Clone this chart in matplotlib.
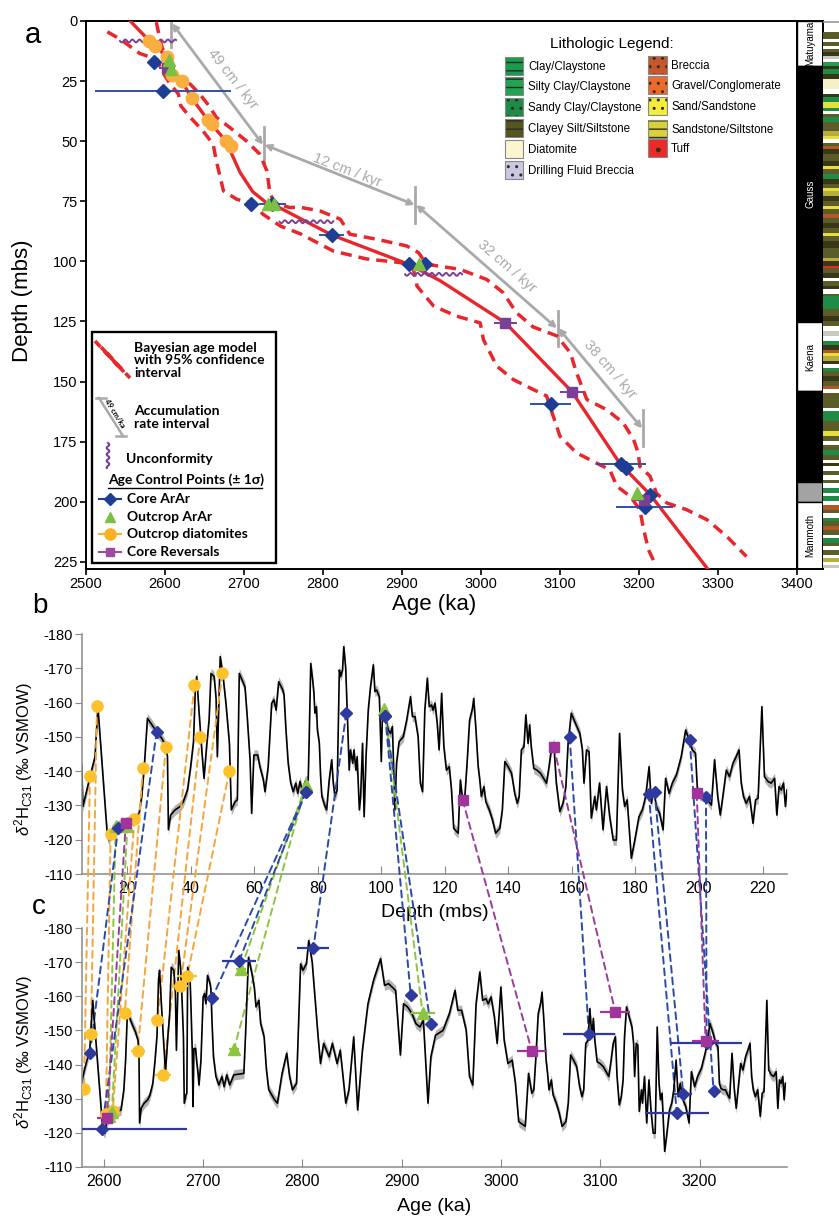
import numpy as np
import matplotlib
matplotlib.use("Agg")
import matplotlib.pyplot as plt
from matplotlib.patches import Rectangle, ConnectionPatch

plt.rcParams['font.family'] = ['Liberation Sans', 'DejaVu Sans']
plt.rcParams['axes.unicode_minus'] = False
plt.rcParams['mathtext.fontset'] = 'custom'
plt.rcParams['mathtext.rm'] = 'Liberation Sans'
plt.rcParams['mathtext.it'] = 'Liberation Sans:italic'
plt.rcParams['mathtext.bf'] = 'Liberation Sans:bold'

# ------------------------------------------------------------------ data
# Bayesian age model (age ka, depth mbs)
age_med = [2556, 2580, 2602, 2609, 2621, 2634, 2654, 2677, 2695, 2711, 2729, 2741,
           2811, 2909, 2948, 3031, 3115, 3176, 3214, 3287]
depth_med = [0, 8.2, 14.7, 20.7, 24.9, 32.1, 41.1, 49.9, 63, 71, 75.8, 77,
             89, 101.3, 108, 125.6, 154.2, 184.2, 197, 228]
age_lo = [2527, 2543, 2568, 2590, 2596, 2606, 2617, 2620, 2632, 2648, 2661, 2665, 2674,
          2691, 2712, 2724, 2746, 2771, 2813, 2855, 2898, 2914, 2919, 2940, 2969, 2999,
          3003, 3020, 3041, 3066, 3083, 3090, 3100, 3121, 3146, 3163, 3172, 3189, 3201,
          3206, 3212, 3222]
depth_lo = [4.5, 7.5, 13.5, 16, 20.7, 26, 30.4, 35.3, 40.1, 45.7, 51.3, 58.2, 70.7,
            74.2, 76, 80.4, 85.3, 88.5, 95.7, 99, 100.5, 102.6, 110.3, 118.6, 122.8, 125.6,
            132.5, 143.6, 149.2, 153.3, 156, 163, 172.8, 179.7, 183.9, 186.7, 193.6, 197.8,
            203.3, 211.7, 220, 226.9]
age_hi = [2589, 2594, 2600, 2615, 2632, 2644, 2655, 2665, 2682, 2703, 2720, 2729, 2733,
          2740, 2758, 2771, 2796, 2822, 2834, 2868, 2906, 2921, 2931, 2973, 3007, 3028,
          3045, 3066, 3096, 3113, 3121, 3134, 3159, 3180, 3193, 3199, 3201, 3214, 3222,
          3235, 3260, 3286, 3311, 3336]
depth_hi = [0.5, 8.2, 15, 22.8, 26.3, 30.4, 35, 40.1, 44.3, 49.9, 55.4, 62.4, 72,
            76, 77.6, 77.5, 79, 82.5, 88.7, 90.8, 93.6, 96.4, 101.2, 103.3, 107.5, 113,
            121.4, 127.3, 131, 138, 146.4, 157.5, 161.7, 167.2, 174, 179.7, 185.3, 189.4,
            196.4, 200.5, 203.3, 207.5, 214.4, 222.8]

# unconformities
unc_depth = [8.3, 83.5, 105.4]
unc_age0 = [2543, 2745, 2904]
unc_age1 = [2614, 2813, 2976]

# accumulation-rate intervals
acc_rates = ["49 cm / kyr", "12 cm / kyr", "32 cm / kyr", "38 cm / kyr"]
acc_age = [2608, 2725, 2917, 3097, 3205]
acc_depth = [1, 51.5, 76.5, 127.8, 169.5]
acc_tick_top = [0, 44, 69, 120.5, 162]
acc_tick_bot = [11, 59, 84, 135.3, 177]

# age control points: depth, age, 1-sigma age error, d2H at depth (b), d2H at age (c)
dia_depth = [8.3, 10.5, 14.8, 22.3, 25.0, 32.2, 41.2, 43.0, 50.0, 52.2]
dia_age = [2580, 2587, 2602, 2609, 2621, 2634, 2654, 2660, 2677, 2684]
dia_err = [5, 6, 5, 5, 6, 7, 7, 8, 8, 10]
dia_b = [-138.6, -159, -121.7, -126, -141, -147, -165, -150, -168.5, -140]
dia_c = [-132.8, -148.9, -125.5, -126.5, -155, -144, -153, -137, -163, -166]

oar_depth = [16.4, 20.1, 76.3, 76.3, 101.0, 196.4]
oar_age = [2605, 2608, 2731, 2738, 2921, 3197]
oar_err = [4, 4, 5, 5, 12, 5]
oar_b = [-124, -124, -136, -136, -158, np.nan]
oar_c = [-125, -126, -144.5, -168, -155, np.nan]

car_depth = [17.2, 29.3, 76.3, 76.3, 89.0, 101.25, 101.25, 159.3, 184.2, 186.0, 197.1, 202.2]
car_age = [2586, 2598, 2709, 2736, 2811, 2909, 2929, 3088.5, 3177, 3183.5, 3214, 3207]
car_err = [2, 86, 3, 17, 16, 3, 3, 26, 32, 9, 3, 36]
car_b = [-123.5, -151.5, -134, -134, -157, -156, -156, -150, -133.3, -134, -149, -132.5]
car_c = [-143.3, -121.2, -159.5, -170.2, -174.1, -160.5, -151.9, -149, -125.9, -131.4,
         -132.3, -146.4]

rev_depth = [19.6, 125.6, 154.3, 199.3]
rev_age = [2603, 3031, 3115, 3206]
rev_err = [10, 15, 15, 14]
rev_b = [-125, -131.6, -147.1, -133.5]
rev_c = [-124.4, -144, -155.5, -146.9]

# d2H C31 record versus depth
rec_depth = [
    5.7, 6.1, 8.4, 9.9, 10.8, 13.8, 14.4, 15.2, 16.8, 18.9,
    21.5, 23.6, 24.6, 25.4, 26.4, 27.8, 29.3, 30.9, 32.3, 32.7,
    33.0, 33.7, 35.1, 36.7, 37.7, 39.0, 40.0, 40.9, 41.5, 41.9,
    42.6, 43.5, 44.2, 45.1, 45.8, 46.4, 47.4, 48.0, 48.4, 49.3,
    50.1, 51.1, 52.2, 52.8, 54.0, 54.7, 55.3, 57.1, 57.8, 58.7,
    59.2, 59.9, 61.1, 61.8, 62.9, 63.4, 64.4, 65.5, 66.2, 66.9,
    67.7, 69.0, 69.4, 70.0, 70.7, 71.5, 72.3, 73.1, 73.7, 74.4,
    75.2, 76.0, 77.0, 77.3, 77.8, 78.4, 78.8, 79.1, 79.6, 79.9,
    80.5, 80.9, 81.3, 82.3, 82.8, 83.6, 84.4, 84.9, 85.4, 86.1,
    86.8, 87.2, 87.8, 88.2, 88.8, 89.3, 89.6, 89.9, 90.3, 91.0,
    91.4, 92.0, 92.4, 93.1, 93.5, 94.1, 94.6, 95.2, 95.9, 96.6,
    97.5, 98.0, 98.5, 99.4, 100.0, 100.4, 100.9, 101.5, 102.2, 102.9,
    103.5, 104.3, 104.8, 105.6, 106.9, 108.0, 109.2, 109.8, 110.6, 111.6,
    112.3, 113.0, 113.7, 114.5, 115.1, 115.8, 116.3, 116.9, 117.6, 118.2,
    119.0, 119.7, 120.5, 121.4, 122.1, 122.8, 124.2, 124.9, 125.6, 126.3,
    127.0, 127.8, 128.7, 129.1, 129.8, 130.5, 131.0, 131.5, 132.3, 132.9,
    134.0, 135.0, 136.0, 137.3, 138.1, 138.9, 139.9, 141.0, 142.0, 142.8,
    143.4, 144.1, 144.9, 145.5, 146.2, 146.7, 147.2, 148.0, 149.0, 150.1,
    151.1, 152.0, 152.8, 153.5, 154.3, 155.1, 156.2, 157.2, 158.1, 158.8,
    159.8, 160.9, 162.5, 163.3, 163.8, 164.6, 165.4, 166.1, 167.2, 167.7,
    168.7, 169.8, 170.9, 171.9, 173.0, 174.0, 175.0, 175.9, 176.6, 177.4,
    178.7, 179.8, 181.1, 182.2, 183.2, 184.3, 185.0, 185.7, 186.6, 187.6,
    188.7, 189.5, 190.6, 191.6, 192.9, 194.4, 195.8, 196.9, 197.9, 198.9,
    199.5, 200.2, 201.2, 202.1, 203.1, 203.9, 204.9, 205.9, 206.7, 207.5,
    208.6, 209.6, 210.7, 211.7, 212.6, 213.3, 214.0, 214.9, 215.9, 217.0,
    217.8, 218.6, 219.8, 220.6, 221.7, 222.7, 223.8, 224.5, 225.2, 225.9,
    226.6, 227.2, 227.7]
rec_d2h = [
    -141.8, -129.7, -138.7, -144.2, -158.8, -120.9, -119.9, -122.9, -124.0, -124.8,
    -125.8, -126.7, -132.6, -141.3, -155.4, -153.5, -151.5, -149.6, -147.1, -144.2,
    -122.9, -127.2, -128.7, -129.7, -131.1, -134.5, -141.3, -148.6, -164.8, -167.6,
    -157.8, -146.2, -137.9, -148.1, -154.9, -168.5, -167.6, -161.2, -144.2, -173.4,
    -168.5, -159.8, -148.1, -128.7, -131.1, -131.6, -168.5, -164.6, -155.9, -143.3,
    -127.7, -144.7, -144.7, -141.3, -137.4, -134.0, -141.3, -159.8, -160.8, -157.8,
    -166.1, -163.7, -162.2, -152.0, -142.3, -136.5, -134.0, -136.5, -133.5, -137.0,
    -134.0, -137.0, -137.4, -149.1, -171.4, -166.6, -162.7, -156.9, -158.8, -152.0,
    -148.1, -138.4, -132.6, -129.7, -128.7, -137.4, -143.3, -136.5, -132.6, -134.5,
    -169.5, -167.6, -169.5, -176.3, -170.0, -156.9, -148.1, -140.3, -146.2, -142.3,
    -146.2, -140.3, -144.2, -128.7, -132.6, -148.1, -126.7, -144.2, -157.8, -164.6,
    -171.0, -163.2, -163.7, -161.7, -142.8, -157.8, -156.9, -155.0, -152.0, -151.0,
    -153.0, -128.7, -142.3, -148.6, -150.0, -154.9, -161.7, -155.9, -155.9, -150.0,
    -136.5, -134.0, -157.8, -167.1, -158.8, -159.3, -157.8, -159.8, -154.0, -146.2,
    -162.7, -147.1, -140.3, -141.3, -134.5, -123.3, -121.9, -137.4, -131.6, -132.6,
    -142.3, -154.9, -158.3, -161.2, -152.0, -141.3, -137.4, -132.6, -135.5, -131.1,
    -128.7, -125.8, -121.9, -123.3, -128.7, -142.8, -141.3, -139.4, -133.5, -130.6,
    -132.6, -146.2, -147.1, -156.4, -148.1, -153.5, -147.1, -140.8, -140.3, -139.4,
    -137.9, -136.5, -141.3, -146.2, -148.1, -136.5, -128.2, -130.6, -135.5, -148.1,
    -156.9, -154.4, -151.0, -146.2, -136.5, -146.2, -145.7, -126.3, -132.6, -128.7,
    -136.5, -122.9, -135.5, -126.7, -119.9, -119.9, -151.0, -134.5, -129.7, -131.6,
    -114.6, -119.9, -126.7, -128.7, -132.6, -141.3, -130.6, -134.5, -129.7, -127.7,
    -122.9, -137.9, -133.5, -136.5, -138.9, -144.2, -152.0, -149.1, -146.2, -145.2,
    -134.5, -133.0, -132.6, -132.6, -131.1, -130.1, -143.3, -132.6, -127.2, -132.6,
    -140.3, -138.4, -142.3, -144.2, -146.2, -136.5, -132.6, -130.6, -132.6, -124.8,
    -131.6, -132.1, -158.8, -138.4, -137.0, -136.5, -137.9, -127.2, -135.5, -134.5,
    -136.5, -129.7, -134.5]
rec_sigma = 1.5  # half-width of grey uncertainty band (per mil)

# magnetostratigraphy
chron_bounds = [0, 18.75, 125.4, 154, 192, 200, 228]
chron_kind = ['R', 'N', 'R', 'N', 'U', 'R']
chron_labels = ['Matuyama', 'Gauss', 'Kaena', '', '', 'Mammoth']

# lithology column
lith_bounds = [
    4.7, 7.5, 8.9, 10.3, 11.7, 13.1, 14.4, 15.8, 17.2, 18.6, 20.0, 22.1, 24.2, 27.0, 28.3,
    30.4, 31.8, 33.9, 36.0, 37.4, 38.8, 40.1, 42.2, 44.3, 45.7, 47.8, 49.2, 50.6, 52.0,
    53.3, 55.4, 58.2, 60.3, 61.7, 63.8, 65.8, 67.9, 69.3, 70.7, 72.8, 74.9, 77.0, 78.3,
    80.4, 81.8, 83.9, 86.0, 88.1, 89.4, 91.5, 94.3, 96.4, 98.5, 99.9, 101.9, 102.9,
    104.7, 106.8, 108.2, 110.3, 111.7, 113.75,
    114.4, 117.2, 120.0, 122.8, 124.9, 127.0, 129.0, 131.1, 133.2, 134.6, 136.7, 138.1,
    139.4, 141.5, 142.9, 144.3, 145.7, 147.8, 149.9, 151.9, 153.3, 154.7, 156.8, 158.9,
    161.0, 162.4, 164.4, 166.5, 168.6, 170.7, 172.8, 174.9, 176.3, 178.3, 180.4, 182.5,
    183.9, 185.3, 187.4, 188.8, 190.8, 192.2, 194.3, 196.4, 197.8, 199.9, 201.3, 203.3,
    204.7, 206.8, 208.2, 210.3, 211.7, 213.75, 215.1, 217.2, 218.6, 220.0, 222.1, 223.5,
    224.9, 226.25, 227.6]
lith_types = ("OWOWOKGWSKCKDDWKCYCWOCOOLYWOBKOKYOCKOYLKOYOBOKOYOKOOLKROKWOKW"
              "OCCOKOWGWCKBYLKWCOKOBWOOOWCCOOYOWOCOWKWOWOWCWCWBOWCOBOWCOWOWLWG")

lith_legend_1 = ["Clay/Claystone", "Silty Clay/Claystone", "Sandy Clay/Claystone",
                 "Clayey Silt/Siltstone", "Diatomite", "Drilling Fluid Breccia"]
lith_legend_2 = ["Breccia", "Gravel/Conglomerate", "Sand/Sandstone",
                 "Sandstone/Siltstone", "Tuff"]

# ------------------------------------------------------------------ styles
RED = '#e8262b'
ACC = '#a9a9a9'
A_BLUE, A_BLUE_E = '#1d3e93', '#2f52a8'
A_GREEN, A_ORANGE, A_PURPLE = '#7ac143', '#f9ae3f', '#7b3f98'
B_BLUE, B_GREEN, B_ORANGE, B_PURPLE = '#2e3a9e', '#8cc63f', '#fdc22b', '#a0349c'
L_BLUE, L_GREEN, L_ORANGE, L_PURPLE = '#2b4aa8', '#8cc63f', '#f6a53a', '#9b3b9b'
LITH_COL = {'C': '#1e8c46', 'S': '#2a9a52', 'O': '#5c5c2a', 'K': '#383818',
            'W': '#ffffff', 'G': '#c9c9c0', 'D': '#f5f0c8', 'Y': '#e6de3c',
            'L': '#b5ae3e', 'B': '#b0582a', 'R': '#e8282a'}
CHRON_COL = {'R': 'white', 'N': 'black', 'U': '#a3a3a3'}

W, H = 839, 1218
fig = plt.figure(figsize=(W / 100, H / 100), dpi=100)


def fax(x0, y0, x1, y1, **kw):
    return fig.add_axes([x0 / W, 1 - y1 / H, (x1 - x0) / W, (y1 - y0) / H], **kw)


# ------------------------------------------------------------------ panel a
axa = fax(86, 21, 797, 569)
axa.set_xlim(2500, 3400)
axa.set_ylim(228, 0)
axa.set_xticks(np.arange(2500, 3401, 100))
axa.set_yticks(np.arange(0, 226, 25))
axa.tick_params(direction='out', length=4, width=1.2, labelsize=10.5, pad=2)
for s in axa.spines.values():
    s.set_linewidth(1.4)
axa.set_xlabel('Age (ka)', fontsize=16)
axa.set_ylabel('Depth (mbs)', fontsize=16)
axa.xaxis.set_label_coords(0.49, -0.045)
axa.yaxis.set_label_coords(-0.075, 0.49)

axa.plot(age_med, depth_med, color=RED, lw=2.4, zorder=3)
axa.plot(age_lo, depth_lo, color=RED, lw=2.5, dashes=(3.2, 2.0), zorder=3)
axa.plot(age_hi, depth_hi, color=RED, lw=2.5, dashes=(3.2, 2.0), zorder=3)

for d, a0, a1 in zip(unc_depth, unc_age0, unc_age1):
    aa = np.linspace(a0, a1, 300)
    axa.plot(aa, d + 0.6 * np.sin((aa - a0) / 9.0 * 2 * np.pi), color=A_PURPLE, lw=1.4,
             zorder=4)

for i in range(len(acc_age)):
    axa.plot([acc_age[i], acc_age[i]], [acc_tick_top[i], acc_tick_bot[i]], color=ACC,
             lw=2.0, zorder=2)
for i in range(len(acc_rates)):
    axa.annotate('', xy=(acc_age[i + 1] - 1, acc_depth[i + 1]),
                 xytext=(acc_age[i] + 1, acc_depth[i]),
                 arrowprops=dict(arrowstyle='<->,head_length=0.35,head_width=0.18',
                                 color=ACC, lw=2.0, shrinkA=0, shrinkB=0), zorder=2)
acc_label_pos = [(2686, 24), (2830, 62), (3032, 102), (3163, 145)]
acc_label_rot = [-52, -21, -41, -49]
for txt, (x, y), r in zip(acc_rates, acc_label_pos, acc_label_rot):
    axa.text(x, y, txt, color=ACC, fontsize=10.5, rotation=r, ha='center', va='center',
             rotation_mode='anchor')


def pts(ax, x, y, err, color, ecolor, marker, ms, z):
    if err is not None:
        ax.errorbar(x, y, xerr=err, fmt='none', ecolor=ecolor, elinewidth=1.4, capsize=0,
                    zorder=z - 0.5)
    ax.plot(x, y, ls='none', marker=marker, color=color, mec=color, ms=ms, zorder=z)


pts(axa, dia_age, dia_depth, None, A_ORANGE, A_ORANGE, 'o', 9, 5)
pts(axa, car_age, car_depth, car_err, A_BLUE, A_BLUE_E, 'D', 7, 6)
pts(axa, rev_age, rev_depth, rev_err, A_PURPLE, A_PURPLE, 's', 7, 6)
pts(axa, oar_age, oar_depth, None, A_GREEN, A_GREEN, '^', 8.5, 7)

# magnetostratigraphy column
axp = fax(797, 21, 823, 569)
axp.set_xlim(0, 1)
axp.set_ylim(228, 0)
axp.set_xticks([])
axp.set_yticks([])
for s in axp.spines.values():
    s.set_linewidth(1.4)
tops = np.array(chron_bounds[:-1])
bots = np.array(chron_bounds[1:])
axp.barh(tops, 1, height=bots - tops, left=0, align='edge',
         color=[CHRON_COL[k] for k in chron_kind], edgecolor='black', lw=1.0)
for t, b, k, lab in zip(tops, bots, chron_kind, chron_labels):
    if lab:
        axp.text(0.5, (t + b) / 2, lab, rotation=90, ha='center', va='center', fontsize=7,
                 color='white' if k == 'N' else 'black')

# lithology column
axl = fax(823, 21, 839, 569)
axl.set_xlim(0, 1)
axl.set_ylim(228, 0)
axl.axis('off')
lt = np.array(lith_bounds[:-1])
lb = np.array(lith_bounds[1:])
axl.barh(lt, 1, height=lb - lt, left=0, align='edge',
         color=[LITH_COL[k] for k in lith_types], lw=0)
axl.plot([0, 1], [0.3, 0.3], color='#999999', lw=1.2)

# ------------------------------------------------------------------ panel b
axb = fax(82, 634, 787, 874)
axb.set_xlim(5.8, 227.7)
axb.set_ylim(-110, -180)
rd = np.array(rec_depth)
rv = np.array(rec_d2h)
axb.fill_between(rd, rv - rec_sigma, rv + rec_sigma, color='#b3b3b3', lw=0, zorder=1)
axb.plot(rd, rv, color='black', lw=1.2, zorder=2)

# ------------------------------------------------------------------ panel c
axc = fax(82, 928, 787, 1167)
axc.set_xlim(2578, 3288)
axc.set_ylim(-110, -180)
rec_age = np.interp(rd, depth_med, age_med)
axc.fill_between(rec_age, rv - rec_sigma, rv + rec_sigma, color='#b3b3b3', lw=0, zorder=1)
axc.plot(rec_age, rv, color='black', lw=1.2, zorder=2)
axc.patch.set_visible(False)

for ax in (axb, axc):
    for s in ('top', 'right'):
        ax.spines[s].set_visible(False)
    for s in ('left', 'bottom'):
        ax.spines[s].set_color('#8a8a8a')
        ax.spines[s].set_linewidth(1.1)
    ax.set_yticks(np.arange(-180, -109, 10))
    ax.tick_params(axis='y', direction='out', length=5, color='#8a8a8a', labelsize=10.5,
                   pad=2)
    ax.tick_params(axis='x', direction='in', length=6, color='#8a8a8a', labelsize=11.5,
                   pad=5)
    ax.set_ylabel(r'$\delta^2$H$_{\mathrm{C31}}$ (‰ VSMOW)', fontsize=12)
    ax.yaxis.set_label_coords(-0.066, 0.48)
axb.set_xticks(np.arange(20, 221, 20))
axc.set_xticks(np.arange(2600, 3201, 100))
axb.set_xlabel('Depth (mbs)', fontsize=14)
axb.xaxis.set_label_coords(0.50, -0.125)
axc.set_xlabel('Age (ka)', fontsize=14)
axc.xaxis.set_label_coords(0.50, -0.13)

groups = [
    (dia_depth, dia_b, dia_age, dia_c, dia_err, B_ORANGE, L_ORANGE, 'o', 8),
    (oar_depth, oar_b, oar_age, oar_c, oar_err, B_GREEN, L_GREEN, '^', 8),
    (car_depth, car_b, car_age, car_c, car_err, B_BLUE, L_BLUE, 'D', 6.5),
    (rev_depth, rev_b, rev_age, rev_c, rev_err, B_PURPLE, L_PURPLE, 's', 6.5),
]
for dep, vb, age, vc, err, col, lcol, mk, ms in groups:
    for d, b, a, c in zip(dep, vb, age, vc):
        if np.isnan(b) or np.isnan(c):
            continue
        con = ConnectionPatch(xyA=(d, b), coordsA=axb.transData, xyB=(a, c),
                              coordsB=axc.transData, color=lcol, lw=1.4,
                              linestyle=(0, (3.5, 2.5)), zorder=3, clip_on=False)
        axb.add_artist(con)
for dep, vb, age, vc, err, col, lcol, mk, ms in groups:
    ok = ~np.isnan(np.array(vb, dtype=float))
    axb.plot(np.array(dep)[ok], np.array(vb)[ok], ls='none', marker=mk, color=col, ms=ms,
             zorder=6)
    ok = ~np.isnan(np.array(vc, dtype=float))
    axc.errorbar(np.array(age)[ok], np.array(vc)[ok], xerr=np.array(err)[ok], fmt='none',
                 ecolor=col, elinewidth=1.6, capsize=0, zorder=5)
    axc.plot(np.array(age)[ok], np.array(vc)[ok], ls='none', marker=mk, color=col, ms=ms,
             zorder=6)

# ------------------------------------------------------------------ overlay (legends, letters)
ov = fig.add_axes([0, 0, 1, 1], zorder=10)
ov.set_xlim(0, W)
ov.set_ylim(H, 0)
ov.axis('off')

ov.text(25, 35, 'a', fontsize=21, ha='left', va='center')
ov.text(32, 606, 'b', fontsize=20, ha='left', va='center')
ov.text(32, 907, 'c', fontsize=20, ha='left', va='center')

# lithologic legend
ov.text(612, 44, 'Lithologic Legend:', fontsize=11, ha='center', va='center')
sw1 = ['#1a9a4a', '#22a352', '#1c8c46', '#55561e', '#fbf6cf', '#cac7e2']
sw2 = ['#c4572c', '#ec6a2c', '#f2ec3a', '#d8d23a', '#ec2a2a']
h1 = ['--', '--', '..', '--', None, '..']
h2 = ['..', '..', '..', '--', '.']
y1 = [66, 86, 107, 128, 149, 170]
y2 = [65, 85, 106, 129, 148]
for lab, c, hh, y in zip(lith_legend_1, sw1, h1, y1):
    ov.add_patch(Rectangle((505, y - 9), 18, 18, facecolor=c, edgecolor='#2a2a2a',
                           hatch=hh, lw=0))
    ov.add_patch(Rectangle((505, y - 9), 18, 18, fill=False, edgecolor='#888888', lw=0.8))
    ov.text(528, y + 1, lab, fontsize=8.3, va='center', ha='left')
for lab, c, hh, y in zip(lith_legend_2, sw2, h2, y2):
    ov.add_patch(Rectangle((648, y - 9), 19, 18, facecolor=c, edgecolor='#3a2a10',
                           hatch=hh, lw=0))
    ov.add_patch(Rectangle((648, y - 9), 19, 18, fill=False, edgecolor='#888888', lw=0.8))
    ov.text(671, y + 1, lab, fontsize=8.3, va='center', ha='left')

# age model legend box
LF = ['Lato', 'DejaVu Sans']
ov.add_patch(Rectangle((92, 332), 184, 231, facecolor='white', edgecolor='black', lw=1.7))
for off, ls in [(-6, (0, (2.2, 1.6))), (0, '-'), (6, (0, (2.2, 1.6)))]:
    ov.plot([101 + off, 124 + off], [347 + off, 372 + off], color=RED, lw=2.6,
            linestyle=ls, solid_capstyle='butt')
ov.text(134, 342, 'Bayesian age model\nwith 95% confidence\ninterval', fontsize=10,
        fontweight='bold', family=LF, va='top', ha='left', linespacing=1.05)
ov.plot([99, 123], [398, 436], color=ACC, lw=1.8)
ov.plot([96, 106], [398, 398], color=ACC, lw=1.8)
ov.plot([116, 126], [436, 436], color=ACC, lw=1.8)
ov.text(115, 413, '49 cm/ka', fontsize=5.5, fontweight='bold', family=LF, rotation=-58,
        ha='center', va='center')
ov.text(134, 405, 'Accumulation\nrate interval', fontsize=10, fontweight='bold',
        family=LF, va='top', ha='left', linespacing=1.05)
yy = np.linspace(443, 468, 100)
ov.plot(108 + 1.3 * np.sin((yy - 443) / 6.5 * 2 * np.pi), yy, color=A_PURPLE, lw=1.5)
ov.text(126, 459, 'Unconformity', fontsize=10, fontweight='bold', family=LF, va='center',
        ha='left')
ov.text(108, 480, 'Age Control Points (± 1σ)', fontsize=10, fontweight='bold', family=LF,
        va='center', ha='left')
ov.plot([108, 262], [488, 488], color='black', lw=1.0)
rows = [('Core ArAr', A_BLUE, 'D', 6, True), ('Outcrop ArAr', A_GREEN, '^', 7.5, False),
        ('Outcrop diatomites', '#fbb021', 'o', 8, True), ('Core Reversals', '#9b4aa0', 's', 6, True)]
for i, (lab, c, mk, ms, line) in enumerate(rows):
    y = 499 + i * 17.7
    if line:
        ov.plot([99, 121], [y, y], color=c, lw=1.5)
    ov.plot([110], [y], marker=mk, color=c, ms=ms, ls='none')
    ov.text(127, y, lab, fontsize=10, fontweight='bold', family=LF, va='center', ha='left')

fig.savefig('out.png', dpi=100)
